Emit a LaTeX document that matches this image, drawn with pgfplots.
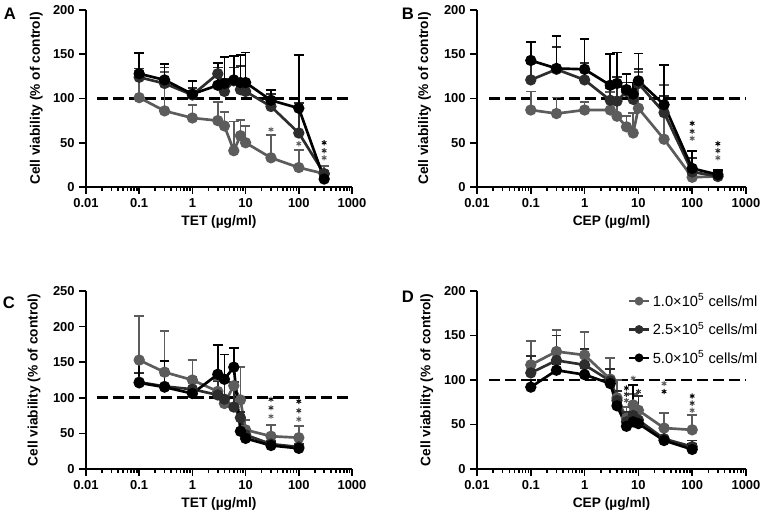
\documentclass[border=0pt]{standalone}
\usepackage{fontspec}
\setmainfont{Liberation Sans}
\usepackage{pgfplots}
\pgfplotsset{compat=1.18}

\definecolor{cA}{RGB}{92,92,92}
\definecolor{cB}{RGB}{45,45,45}
\definecolor{cC}{RGB}{0,0,0}

\newcommand\tickfont{\bfseries\fontsize{9.7}{11}\selectfont}
\newcommand\labfont{\bfseries\fontsize{10.3}{12}\selectfont}

\pgfplotsset{
  every axis/.append style={
    scale only axis,
    axis x line*=bottom, axis y line*=left,
    axis line style={line width=1.6pt},
    tick align=outside, major tick length=5pt, minor tick length=2.8pt,
    major tick style={line width=1.2pt, black},
    minor tick style={line width=1.2pt, black},
    ticklabel style={font=\tickfont},
    ylabel style={font=\labfont},
    xlabel style={font=\labfont},
  },
  vser/.style={color=#1, line width=2pt, mark=*, mark size=3.2pt, mark options={solid, fill=#1},
    error bars/y dir=plus, error bars/y explicit,
    error bars/error bar style={color=#1, line width=1.3pt},
    error bars/error mark options={rotate=90, color=#1, mark size=3.6pt, line width=1.3pt}},
  vref/.style={black, line width=2pt, dash pattern=on 8pt off 4pt, forget plot},
  vsig/.style={color=#1, only marks, mark=asterisk, mark size=2pt, line width=0.7pt, forget plot},
}

\begin{document}
\begin{tikzpicture}
\useasboundingbox (0,0) rectangle (573.75pt,-387.75pt);

% ---------- A ----------
\begin{axis}[width=199.5pt, height=132.75pt, at={(64.5pt,-140.25pt)}, anchor=south west,
  xmode=log, xmin=0.01, xmax=1000, ymin=0, ymax=200, clip=false,
  xtick={0.01,0.1,1,10,100,1000}, xticklabels={0.01,0.1,1,10,100,1000},
  minor xtick={0.02,0.03,0.04,0.05,0.06,0.07,0.08,0.09,0.2,0.3,0.4,0.5,0.6,0.7,0.8,0.9,2,3,4,5,6,7,8,9,20,30,40,50,60,70,80,90,200,300,400,500,600,700,800,900},
  ytick={0,50,100,150,200}, yticklabels={0,50,100,150,200},
  xlabel={TET (µg/ml)}, ylabel={Cell viability (\% of control)},
  every axis y label/.append style={at={(axis description cs:-0.187,0.5)}, anchor=center},
  every axis x label/.append style={at={(rel axis cs:0.5,0)}, anchor=center, yshift=-26pt}]
\addplot[vref] coordinates {(0.016,100) (1000,100)};
\addplot[vser=cA] table[y error=e] {
x y e
0.1 101 30
0.3 86 44
1 78 15
3 75 21
4 69 16
6 41 33
8 58 18
10 50 19
30 33 26
100 22 20
300 15 9
};
\addplot[vser=cB] table[y error=e] {
x y e
0.1 124 10
0.3 117 18
1 104 8
3 128 7
4 108 14
6 120 15
8 110 27
10 108 12
30 91 14
100 61 34
300 15 3
};
\addplot[vser=cC] table[y error=e] {
x y e
0.1 128 23
0.3 121 18
1 105 15
3 115 25
4 117 30
6 121 27
8 118 31
10 118 34
30 98 12
100 89 60
300 9 3
};
\addplot[vsig=cA] coordinates {(30,65) (100,49) (300,33)};
\addplot[vsig=cB] coordinates {(300,41)};
\addplot[vsig=cC] coordinates {(300,50)};
\end{axis}

% ---------- B ----------
\begin{axis}[width=201.75pt, height=132.75pt, at={(357.75pt,-140.25pt)}, anchor=south west,
  xmode=log, xmin=0.01, xmax=1000, ymin=0, ymax=200, clip=false,
  xtick={0.01,0.1,1,10,100,1000}, xticklabels={0.01,0.1,1,10,100,1000},
  minor xtick={0.02,0.03,0.04,0.05,0.06,0.07,0.08,0.09,0.2,0.3,0.4,0.5,0.6,0.7,0.8,0.9,2,3,4,5,6,7,8,9,20,30,40,50,60,70,80,90,200,300,400,500,600,700,800,900},
  ytick={0,50,100,150,200}, yticklabels={0,50,100,150,200},
  xlabel={CEP (µg/ml)}, ylabel={Cell viability (\% of control)},
  every axis y label/.append style={at={(axis description cs:-0.195,0.5)}, anchor=center},
  every axis x label/.append style={at={(rel axis cs:0.5,0)}, anchor=center, yshift=-26pt}]
\addplot[vref] coordinates {(0.017,100) (1000,100)};
\addplot[vser=cA] table[y error=e] {
x y e
0.1 87 21
0.3 83 18
1 87 9
3 87 20
4 80 18
6 68 12
8 61 23
10 89 41
30 54 61
100 11 4
300 12 2
};
\addplot[vser=cB] table[y error=e] {
x y e
0.1 121 19
0.3 133 25
1 121 19
3 98 14
4 97 27
6 108 10
8 99 19
10 117 16
30 84 19
100 17 16
300 12 6
};
\addplot[vser=cC] table[y error=e] {
x y e
0.1 143 21
0.3 134 37
1 133 34
3 115 35
4 117 35
6 110 18
8 105 13
10 120 31
30 93 45
100 21 20
300 14 5
};
\addplot[vsig=cA] coordinates {(100,55) (300,33)};
\addplot[vsig=cB] coordinates {(100,63) (300,41)};
\addplot[vsig=cC] coordinates {(100,72) (300,49)};
\end{axis}

% ---------- C ----------
\begin{axis}[width=199.5pt, height=133.5pt, at={(64.5pt,-351.75pt)}, anchor=south west,
  xmode=log, xmin=0.01, xmax=1000, ymin=0, ymax=250, clip=false,
  xtick={0.01,0.1,1,10,100,1000}, xticklabels={0.01,0.1,1,10,100,1000},
  minor xtick={0.02,0.03,0.04,0.05,0.06,0.07,0.08,0.09,0.2,0.3,0.4,0.5,0.6,0.7,0.8,0.9,2,3,4,5,6,7,8,9,20,30,40,50,60,70,80,90,200,300,400,500,600,700,800,900},
  ytick={0,50,100,150,200,250}, yticklabels={0,50,100,150,200,250},
  xlabel={TET (µg/ml)}, ylabel={Cell viability (\% of control)},
  every axis y label/.append style={at={(axis description cs:-0.195,0.5)}, anchor=center},
  every axis x label/.append style={at={(rel axis cs:0.5,0)}, anchor=center, yshift=-26pt}]
\addplot[vref] coordinates {(0.016,100) (1000,100)};
\addplot[vser=cA] table[y error=e] {
x y e
0.1 153 62
0.3 136 58
1 125 28
3 109 16
4 92 31
6 117 6
8 97 46
10 55 14
30 46 16
100 44 16
};
\addplot[vser=cB] table[y error=e] {
x y e
0.1 122 13
0.3 116 16
1 112 14
3 104 19
4 98 24
6 87 35
8 72 8
10 48 10
30 35 5
100 31 4
};
\addplot[vser=cC] table[y error=e] {
x y e
0.1 121 32
0.3 115 37
1 106 23
3 133 41
4 126 35
6 143 27
8 53 22
10 43 12
30 33 5
100 29 4
};
\addplot[vsig=cA] coordinates {(30,74) (100,70)};
\addplot[vsig=cB] coordinates {(30,86) (100,82)};
\addplot[vsig=cC] coordinates {(30,98) (100,95)};
\end{axis}

% ---------- D ----------
\begin{axis}[width=201.75pt, height=133.5pt, at={(357.75pt,-351.75pt)}, anchor=south west,
  xmode=log, xmin=0.01, xmax=1000, ymin=0, ymax=200, clip=false,
  xtick={0.01,0.1,1,10,100,1000}, xticklabels={0.01,0.1,1,10,100,1000},
  minor xtick={0.02,0.03,0.04,0.05,0.06,0.07,0.08,0.09,0.2,0.3,0.4,0.5,0.6,0.7,0.8,0.9,2,3,4,5,6,7,8,9,20,30,40,50,60,70,80,90,200,300,400,500,600,700,800,900},
  ytick={0,50,100,150,200}, yticklabels={0,50,100,150,200},
  xlabel={CEP (µg/ml)}, ylabel={Cell viability (\% of control)},
  every axis y label/.append style={at={(axis description cs:-0.187,0.5)}, anchor=center},
  every axis x label/.append style={at={(rel axis cs:0.5,0)}, anchor=center, yshift=-26pt},
  legend style={at={(rel axis cs:0.56,1.0)}, anchor=north west, draw=none, fill=none,
    font=\fontsize{11}{12}\selectfont, row sep=6.5pt, inner sep=0pt,
    cells={anchor=west}},
  legend image code/.code={\draw[#1, mark repeat=2, mark phase=2, mark size=2.4pt, line width=1.7pt] plot coordinates {(0pt,0pt) (7.5pt,0pt) (15pt,0pt)};}]
\addplot[vref] coordinates {(0.017,100) (1000,100)};
\addplot[vser=cA] table[y error=e] {
x y e
0.1 117 27
0.3 132 24
1 128 26
3 101 24
4 80 20
6 57 13
8 72 12
10 66 16
30 46 17
100 44 17
};
\addlegendentry{1.0×10\textsuperscript{5} cells/ml}
\addplot[vser=cB] table[y error=e] {
x y e
0.1 108 19
0.3 122 28
1 117 18
3 99 13
4 77 11
6 53 11
8 60 10
10 55 27
30 34 14
100 25 7
};
\addlegendentry{2.5×10\textsuperscript{5} cells/ml}
\addplot[vser=cC] table[y error=e] {
x y e
0.1 92 8
0.3 111 7
1 106 7
3 96 4
4 71 7
6 48 5
8 53 41
10 51 5
30 32 4
100 22 6
};
\addlegendentry{5.0×10\textsuperscript{5} cells/ml}
\addplot[vsig=cA] coordinates {(6,77) (8,102) (30,96) (100,66)};
\addplot[vsig=cB] coordinates {(6,84) (10,87) (100,74)};
\addplot[vsig=cC] coordinates {(6,91) (30,87) (100,82)};
\end{axis}

\node[font=\bfseries\fontsize{12.5}{14}\selectfont] at (7.5pt,-10.5pt) {A};
\node[font=\bfseries\fontsize{12.5}{14}\selectfont] at (306pt,-10.5pt) {B};
\node[font=\bfseries\fontsize{12.5}{14}\selectfont] at (6.75pt,-227.25pt) {C};
\node[font=\bfseries\fontsize{12.5}{14}\selectfont] at (306pt,-222.75pt) {D};
\end{tikzpicture}
\end{document}
